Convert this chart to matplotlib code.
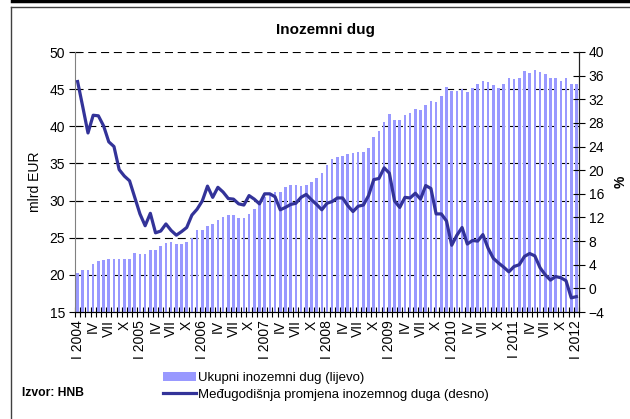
import matplotlib
matplotlib.use('Agg')
import matplotlib.pyplot as plt
from matplotlib.lines import Line2D
from matplotlib.patches import Patch
import numpy as np

plt.rcParams['font.family'] = ['Liberation Sans', 'DejaVu Sans']
plt.rcParams['lines.scale_dashes'] = False

# Ukupni inozemni dug, mlrd EUR (monthly, I 2004 - I 2012)
debt = [20.3, 20.6, 20.6, 21.4, 21.8, 22.0, 22.1, 22.2, 22.1, 22.1, 22.2, 22.9,
        22.8, 22.8, 23.3, 23.4, 23.9, 24.3, 24.4, 24.2, 24.2, 24.4, 25.0, 26.0,
        26.1, 26.6, 26.9, 27.4, 27.8, 28.1, 28.0, 27.6, 27.6, 28.2, 28.8, 29.5,
        30.5, 30.9, 31.1, 31.1, 31.8, 32.1, 32.1, 31.9, 32.1, 32.5, 33.1, 33.7,
        34.8, 35.6, 35.9, 36.0, 36.3, 36.4, 36.5, 36.5, 37.1, 38.6, 39.3, 40.6,
        41.7, 40.9, 40.9, 41.5, 41.8, 42.3, 42.2, 42.9, 43.4, 43.3, 44.1, 45.3,
        44.8, 44.8, 45.0, 44.6, 45.2, 45.7, 46.1, 45.9, 45.6, 45.2, 45.7, 46.5,
        46.4, 46.5, 47.5, 47.2, 47.6, 47.3, 47.1, 46.5, 46.5, 46.1, 46.5, 45.7,
        45.7]

# Međugodišnja promjena, %
change = [35.0, 30.7, 26.3, 29.3, 29.2, 27.5, 24.8, 24.0, 20.1, 19.0, 18.2, 15.4,
          12.6, 10.6, 12.7, 9.4, 9.7, 10.9, 9.8, 9.0, 9.6, 10.3, 12.4, 13.4,
          14.8, 17.3, 15.4, 17.1, 16.3, 15.2, 15.1, 14.3, 14.1, 15.7, 15.1, 14.3,
          16.0, 16.0, 15.5, 13.3, 13.7, 14.2, 14.4, 15.4, 15.9, 15.0, 14.2, 13.3,
          14.4, 14.7, 15.3, 15.3, 14.0, 13.0, 13.9, 14.1, 15.7, 18.4, 18.6, 20.4,
          19.5, 14.8, 13.7, 15.4, 15.3, 16.1, 15.1, 17.4, 16.9, 12.6, 12.6, 11.4,
          7.3, 9.0, 10.3, 7.5, 8.1, 8.0, 9.1, 6.8, 5.1, 4.3, 3.6, 2.8,
          3.7, 4.0, 5.4, 5.9, 5.5, 3.5, 2.3, 1.4, 2.0, 1.8, 1.3, -1.6,
          -1.4]

years = [2004, 2005, 2006, 2007, 2008, 2009, 2010, 2011, 2012]
quarter_marks = ['I', 'IV', 'VII', 'X']
tick_labels = []
for y in years:
    for q in quarter_marks:
        tick_labels.append(f'I {y}' if q == 'I' else q)
tick_labels = tick_labels[:33]

bar_color = '#9999FF'
line_color = '#333399'

n = len(debt)
x = np.arange(n)

fig = plt.figure(figsize=(6.3, 4.19), dpi=100)
ax = fig.add_axes([75 / 630, 1 - 312 / 419, (579 - 75) / 630, 260 / 419])
ax.bar(x, debt, width=0.5, color=bar_color, zorder=2)
ax.set_xlim(-0.5, n - 0.5)
ax.set_ylim(15, 50)
ax.set_yticks(range(15, 51, 5))
ax.yaxis.grid(True, linestyle=(0, (5.8, 3.4)), color='black', lw=0.8)
ax.set_axisbelow(True)

# x ticks: marks at month boundaries, labels at quarter centres
ax.set_xticks(np.arange(-0.5, n, 1))
ax.set_xticklabels([])
ax.set_xticks(np.arange(0, n, 3), minor=True)
ax.set_xticklabels(tick_labels, minor=True, rotation=90, fontsize=10)
ax.tick_params(axis='x', which='major', direction='inout', length=7, width=0.8)
ax.tick_params(axis='x', which='minor', length=0, pad=6)
ax.tick_params(axis='y', direction='inout', length=8, width=0.8, labelsize=10, pad=3)

ax.spines['top'].set_visible(False)
ax.spines['left'].set_color('#808080')
ax.spines['bottom'].set_color('#202020')
ax.set_ylabel('mlrd EUR', fontsize=10)
ax.yaxis.set_label_coords(-0.066, 0.5)

ax2 = ax.twinx()
ax2.plot(x, change, color=line_color, lw=2.3, solid_joinstyle='round', zorder=3)
ax2.set_ylim(-4, 40)
ax2.set_yticks(range(-4, 41, 4))
ax2.tick_params(axis='y', direction='inout', length=8, width=0.8, labelsize=10, pad=3)
ax2.spines['top'].set_visible(False)
ax2.spines['left'].set_visible(False)
ax2.spines['right'].set_color('#202020')
ax2.set_ylabel('%', fontsize=10, fontweight='bold', rotation=90)
ax2.yaxis.set_label_coords(1.068, 0.5)

fig.text(325 / 630, 1 - 30 / 419, 'Inozemni dug', fontsize=11, fontweight='bold',
         ha='center', va='center')

handles = [Patch(facecolor=bar_color, edgecolor='none'),
           Line2D([0], [0], color=line_color, lw=2.3)]
leg_labels = ['Ukupni inozemni dug (lijevo)',
              'Međugodišnja promjena inozemnog duga (desno)']
fig.legend(handles, leg_labels, loc='upper left',
           bbox_to_anchor=(152 / 630, 1 - 361 / 419), frameon=False,
           fontsize=9.5, handlelength=2.5, handletextpad=0.15, labelspacing=0.35,
           borderpad=0.3)

fig.text(22 / 630, 1 - 393 / 419, 'Izvor: HNB', fontsize=8.7, fontweight='bold',
         ha='left', va='center')

fig.add_artist(Line2D([11 / 630, 11 / 630], [0, 1 - 7 / 419],
                      transform=fig.transFigure, color='#404040', lw=1))
fig.add_artist(Line2D([11 / 630, 1], [1 - 7.3 / 419, 1 - 7.3 / 419],
                      transform=fig.transFigure, color='#404040', lw=1))
fig.add_artist(Line2D([12 / 630, 1], [1 - 1 / 419, 1 - 1 / 419],
                      transform=fig.transFigure, color='black', lw=2.5))

fig.savefig('out.png', dpi=100)
